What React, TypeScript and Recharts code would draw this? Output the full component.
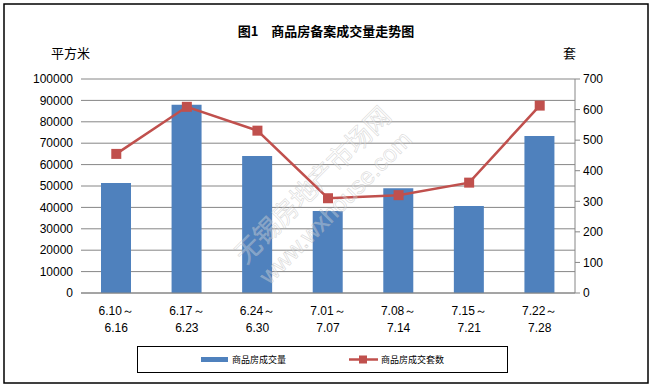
import React from "react"
import {
  ComposedChart,
  Bar,
  Line,
  XAxis,
  YAxis,
  CartesianGrid,
  Legend,
} from "recharts"

const weekStart = ["6.10", "6.17", "6.24", "7.01", "7.08", "7.15", "7.22"]
const weekEnd = ["6.16", "6.23", "6.30", "7.07", "7.14", "7.21", "7.28"]
// 商品房成交量 (平方米)
const areaValues = [51400, 88000, 64000, 38300, 49000, 40700, 73400]
// 商品房成交套数 (套)
const unitValues = [455, 609, 531, 310, 320, 361, 613]
const areaTicks = [0, 10000, 20000, 30000, 40000, 50000, 60000, 70000, 80000, 90000, 100000]
const unitTicks = [0, 100, 200, 300, 400, 500, 600, 700]

const BLUE = "#4F81BD"
const RED = "#C0504D"
const GRID = "#868686"
const FONT = "'Liberation Sans', Arial, sans-serif"
const CJK = "'Noto Sans CJK SC', sans-serif"

const data = weekStart.map((s, i) => ({
  name: s + "～",
  area: areaValues[i],
  units: unitValues[i],
}))

function WeekTick({ x, y, payload }: any) {
  return (
    <g>
      <text x={x} y={y + 14} textAnchor="middle" fontSize={12} fontFamily={FONT} fill="#000">
        {payload.value}
      </text>
      <text x={x} y={y + 31} textAnchor="middle" fontSize={12} fontFamily={FONT} fill="#000">
        {weekEnd[payload.index]}
      </text>
    </g>
  )
}

function SquareDot({ cx, cy }: any) {
  if (cx == null || cy == null) return null
  return <rect x={cx - 5} y={cy - 5} width={10} height={10} fill={RED} />
}

function LegendBox() {
  const txt = { fontSize: 9, fontFamily: CJK, fill: "#000" }
  return (
    <svg width={371} height={27} style={{ display: "block" }}>
      <rect x={0.5} y={0.5} width={370} height={26} fill="#fff" stroke="#000" strokeWidth={1} />
      <rect x={64} y={11} width={27} height={5} fill={BLUE} />
      <text x={95} y={17} {...txt}>商品房成交量</text>
      <line x1={212} y1={13.5} x2={241} y2={13.5} stroke={RED} strokeWidth={2.5} />
      <rect x={222} y={9.5} width={8} height={8} fill={RED} />
      <text x={244} y={17} {...txt}>商品房成交套数</text>
    </svg>
  )
}

export default function App() {
  return (
    <div style={{ position: "absolute", left: 0, top: 0, width: 650, height: 385, background: "#fff" }}>
      <ComposedChart
        width={650}
        height={385}
        data={data}
        margin={{ top: 79, right: 40, left: 0, bottom: 10 }}
        barCategoryGap={0}
      >
        <CartesianGrid yAxisId="left" vertical={false} stroke={GRID} strokeWidth={1} />
        <XAxis
          dataKey="name"
          tick={<WeekTick />}
          tickLine={false}
          axisLine={{ stroke: GRID }}
          height={55}
          interval={0}
        />
        <YAxis
          yAxisId="left"
          domain={[0, 100000]}
          ticks={areaTicks}
          interval={0}
          width={81}
          axisLine={false}
          tickLine={false}
          tick={{ fill: "#000", fontSize: 12, fontFamily: FONT }}
        />
        <YAxis
          yAxisId="right"
          orientation="right"
          domain={[0, 700]}
          ticks={unitTicks}
          interval={0}
          width={35}
          axisLine={{ stroke: GRID }}
          tickLine={{ stroke: GRID }}
          tickSize={5}
          tickMargin={3}
          tick={{ fill: "#000", fontSize: 12, fontFamily: FONT }}
        />
        <Legend
          content={() => <LegendBox />}
          wrapperStyle={{ position: "absolute", left: 137, top: 346, width: 371, height: 27 }}
        />
        <Bar yAxisId="left" dataKey="area" fill={BLUE} barSize={30} isAnimationActive={false} />
        <Line
          yAxisId="right"
          type="linear"
          dataKey="units"
          stroke={RED}
          strokeWidth={2.5}
          dot={<SquareDot />}
          activeDot={false}
          isAnimationActive={false}
        />
      </ComposedChart>
      <svg
        width={650}
        height={385}
        style={{ position: "absolute", left: 0, top: 0, pointerEvents: "none" }}
      >
        <g
          transform="rotate(-45 313 185)"
          fill="rgba(255,255,255,0.3)"
          stroke="rgba(175,175,175,0.45)"
          strokeWidth={0.7}
        >
          <text x={313} y={194} textAnchor="middle" fontSize={26} fontFamily={CJK}>
            无锡房地产市场网
          </text>
          <text x={313} y={225} textAnchor="middle" fontSize={24} fontFamily={FONT}>
            www.wxhouse.com
          </text>
        </g>
        <text x={326} y={36} textAnchor="middle" fontSize={13} fontWeight="bold" fontFamily={CJK}>
          图1　商品房备案成交量走势图
        </text>
        <text x={51} y={58} fontSize={13} fontFamily={CJK}>平方米</text>
        <text x={563} y={58} fontSize={13} fontFamily={CJK}>套</text>
        <rect x={4} y={4} width={644} height={379} fill="none" stroke="#000" strokeWidth={1.5} />
      </svg>
    </div>
  )
}
